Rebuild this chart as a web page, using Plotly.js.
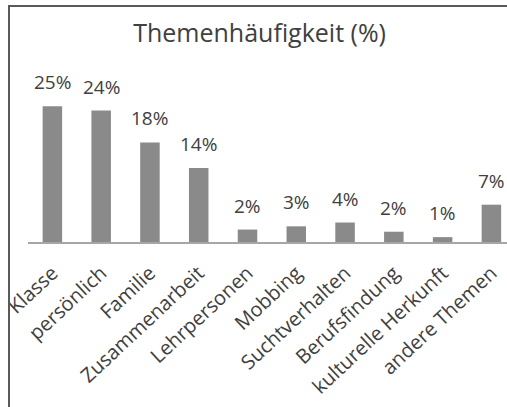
<!DOCTYPE html>
<html>
<head>
<meta charset="utf-8">
<script src="https://cdn.plot.ly/plotly-3.0.1.min.js"></script>
<style>
  html, body { margin: 0; padding: 0; background: #ffffff; }
  #wrap { position: relative; width: 507px; height: 407px; overflow: hidden; }
  #chart { position: absolute; left: 0; top: 0; width: 507px; height: 407px; }
  #frame { position: absolute; left: 8px; top: 5px; width: 520px; height: 420px;
           border-left: 2px solid #5a5a5a; border-top: 2px solid #5a5a5a; pointer-events: none; }
</style>
</head>
<body>
<div id="wrap">
  <div id="chart"></div>
  <div id="frame"></div>
</div>
<script>
const categories = ["Klasse", "persönlich", "Familie", "Zusammenarbeit", "Lehrpersonen",
                    "Mobbing", "Suchtverhalten", "Berufsfindung", "kulturelle Herkunft", "andere Themen"];
const values = [25.1, 24.3, 18.4, 13.7, 2.3, 2.9, 3.6, 1.9, 0.9, 6.9];
const valueLabels = ["25%", "24%", "18%", "14%", "2%", "3%", "4%", "2%", "1%", "7%"];
const chartTitle = "Themenhäufigkeit (%)";

const textColor = "#404040";
const fontFamily = "'Open Sans', 'Noto Sans', sans-serif";

const trace = {
  type: "bar",
  x: categories,
  y: values,
  marker: { color: "#8a8a8a" },
  hoverinfo: "none"
};

const annotations = categories.map((c, i) => ({
  x: c,
  y: values[i],
  xref: "x",
  yref: "y",
  text: valueLabels[i],
  showarrow: false,
  yanchor: "bottom",
  xanchor: "center",
  yshift: 9,
  font: { family: fontFamily, size: 19, color: textColor }
}));

const layout = {
  width: 507,
  height: 407,
  margin: { l: 28, r: 0, t: 50, b: 165, pad: 0 },
  paper_bgcolor: "#ffffff",
  plot_bgcolor: "#ffffff",
  bargap: 0.6,
  showlegend: false,
  title: {
    text: chartTitle,
    font: { family: fontFamily, size: 25, color: textColor },
    xref: "container",
    yref: "container",
    x: 0.512,
    xanchor: "center",
    y: 0.918,
    yanchor: "middle"
  },
  xaxis: {
    type: "category",
    range: [-0.5, 9.32],
    showline: true,
    linecolor: "#a6a6a6",
    linewidth: 1.5,
    ticks: "",
    showgrid: false,
    zeroline: false,
    tickangle: -43,
    ticklabelstandoff: 10,
    tickfont: { family: fontFamily, size: 20, color: textColor },
    automargin: false,
    fixedrange: true
  },
  yaxis: {
    range: [0, 35.5],
    showticklabels: false,
    showgrid: false,
    zeroline: false,
    showline: false,
    ticks: "",
    fixedrange: true
  },
  annotations: annotations
};

Plotly.newPlot("chart", [trace], layout, { staticPlot: true, displayModeBar: false });
</script>
</body>
</html>
